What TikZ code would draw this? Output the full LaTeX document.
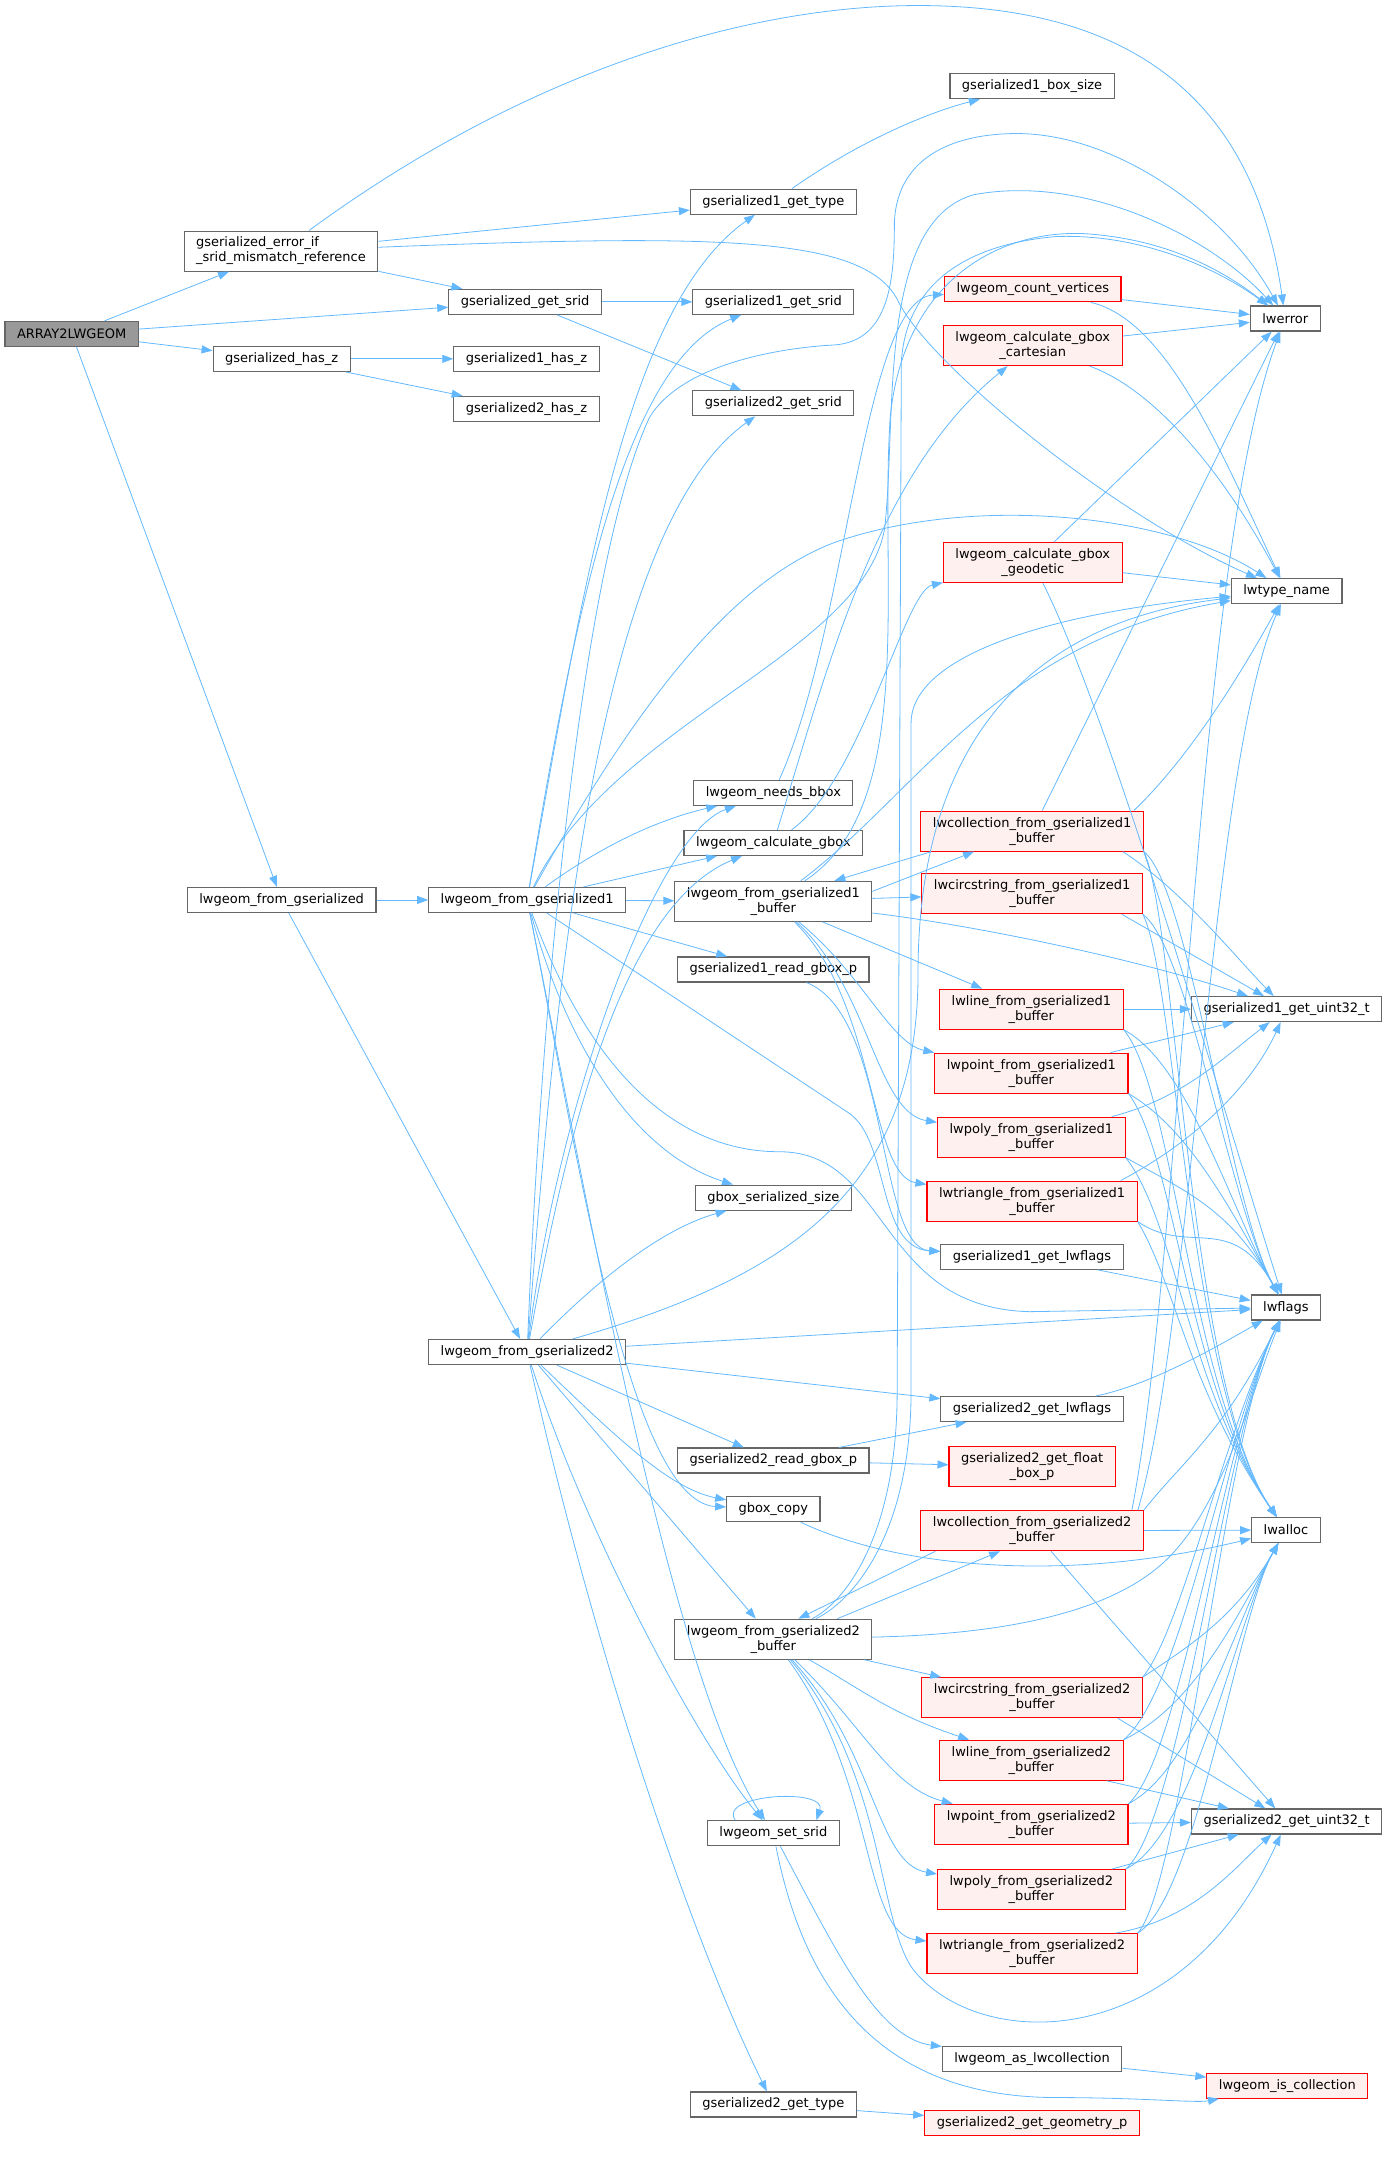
\documentclass[tikz,border=0pt]{standalone}
\usepackage{fontspec}
\newfontfamily\dejavu{DejaVu Sans}
\usetikzlibrary{arrows.meta}
\definecolor{callblue}{HTML}{63B8FF}
\definecolor{boxgrey}{HTML}{666666}
\definecolor{rootgrey}{HTML}{999999}
\definecolor{redfill}{HTML}{FFF0F0}

\begin{document}
\begin{tikzpicture}[x=1.3908pt,y=-1.3908pt,font=\dejavu\fontsize{13pt}{15pt}\selectfont,fn/.style={draw=boxgrey,fill=white,line width=1.1pt,inner xsep=12pt,inner ysep=3pt,minimum height=25pt},two/.style={minimum height=40pt,align=center},redfn/.style={fn,draw=red,fill=redfill},root/.style={fn,fill=rootgrey},call/.style={draw=callblue,line width=0.8pt,-{Triangle[length=11pt,width=8pt]}}]
\useasboundingbox (0,0) rectangle (998,1568);
\node[root] (arr) at (51.5,240) {ARRAY2LWGEOM};
\node[fn,two,align=left] (erref) at (202,180.5) {gserialized\_error\_if\\\_srid\_mismatch\_reference};
\node[fn] (gsrid) at (377.5,217) {gserialized\_get\_srid};
\node[fn] (hasz) at (202.5,258) {gserialized\_has\_z};
\node[fn] (g1hasz) at (378.5,258) {gserialized1\_has\_z};
\node[fn] (g2hasz) at (378.5,294) {gserialized2\_has\_z};
\node[fn] (g1type) at (556,145) {gserialized1\_get\_type};
\node[fn] (g1srid) at (556,217) {gserialized1\_get\_srid};
\node[fn] (g2srid) at (556,290) {gserialized2\_get\_srid};
\node[fn] (g1box) at (742,62) {gserialized1\_box\_size};
\node[fn] (lwerr) at (924,229) {lwerror};
\node[redfn] (countv) at (742.5,208) {lwgeom\_count\_vertices};
\node[redfn,two] (cart) at (742.5,248.5) {lwgeom\_calculate\_gbox\\\_cartesian};
\node[redfn,two] (geod) at (742.5,404.5) {lwgeom\_calculate\_gbox\\\_geodetic};
\node[fn] (lwtype) at (925,425) {lwtype\_name};
\node[fn] (needs) at (556,570) {lwgeom\_needs\_bbox};
\node[fn] (calc) at (556,606) {lwgeom\_calculate\_gbox};
\node[fn] (lwgfromg) at (202.5,647) {lwgeom\_from\_gserialized};
\node[fn] (lwg1) at (379,647) {lwgeom\_from\_gserialized1};
\node[fn,two] (lwg1buf) at (556,648) {lwgeom\_from\_gserialized1\\\_buffer};
\node[redfn,two] (coll1) at (742,597.5) {lwcollection\_from\_gserialized1\\\_buffer};
\node[redfn,two] (circ1) at (742,642.5) {lwcircstring\_from\_gserialized1\\\_buffer};
\node[fn] (g1read) at (556,697) {gserialized1\_read\_gbox\_p};
\node[redfn,two] (line1) at (741.5,725.5) {lwline\_from\_gserialized1\\\_buffer};
\node[fn] (g1uint) at (925,725.5) {gserialized1\_get\_uint32\_t};
\node[redfn,two] (point1) at (741.5,771.5) {lwpoint\_from\_gserialized1\\\_buffer};
\node[redfn,two] (poly1) at (741.5,817.5) {lwpoly\_from\_gserialized1\\\_buffer};
\node[redfn,two] (tri1) at (742,863.5) {lwtriangle\_from\_gserialized1\\\_buffer};
\node[fn] (gbsize) at (556,861) {gbox\_serialized\_size};
\node[fn] (g1lwfl) at (742,903.5) {gserialized1\_get\_lwflags};
\node[fn] (lwfl) at (924.5,940) {lwflags};
\node[fn] (lwg2) at (379,972) {lwgeom\_from\_gserialized2};
\node[fn] (g2lwfl) at (742,1013) {gserialized2\_get\_lwflags};
\node[fn] (g2read) at (556,1050) {gserialized2\_read\_gbox\_p};
\node[redfn,two] (g2float) at (742,1054.5) {gserialized2\_get\_float\\\_box\_p};
\node[fn] (gbcopy) at (556,1085) {gbox\_copy};
\node[redfn,two] (coll2) at (742,1100.5) {lwcollection\_from\_gserialized2\\\_buffer};
\node[fn] (lwal) at (924.5,1100) {lwalloc};
\node[fn,two] (lwg2buf) at (556,1178.5) {lwgeom\_from\_gserialized2\\\_buffer};
\node[redfn,two] (circ2) at (742,1220.5) {lwcircstring\_from\_gserialized2\\\_buffer};
\node[redfn,two] (line2) at (741.5,1265.5) {lwline\_from\_gserialized2\\\_buffer};
\node[fn] (g2uint) at (925,1309.5) {gserialized2\_get\_uint32\_t};
\node[redfn,two] (point2) at (741.5,1311.5) {lwpoint\_from\_gserialized2\\\_buffer};
\node[fn] (setsrid) at (556,1318) {lwgeom\_set\_srid};
\node[redfn,two] (poly2) at (741.5,1358.5) {lwpoly\_from\_gserialized2\\\_buffer};
\node[redfn,two] (tri2) at (742,1404.5) {lwtriangle\_from\_gserialized2\\\_buffer};
\node[fn] (aslw) at (742,1480) {lwgeom\_as\_lwcollection};
\node[redfn] (iscoll) at (925.5,1499.5) {lwgeom\_is\_collection};
\node[fn] (g2type) at (556,1513) {gserialized2\_get\_type};
\node[redfn] (g2geom) at (742,1526.5) {gserialized2\_get\_geometry\_p};
\draw[call] (arr) -- (erref);
\draw[call] (arr) -- (gsrid);
\draw[call] (arr) -- (hasz);
\draw[call] (arr) -- (lwgfromg);
\draw[call] (erref) -- (g1type);
\draw[call] (erref) -- (gsrid);
\draw[call] (erref) .. controls (380,50) and (540,3) .. (664,4) .. controls (800,5) and (900,60) .. (lwerr);
\draw[call] (erref) .. controls (520,168) and (620,170) .. (645,215) .. controls (665,260) and (800,370) .. (lwtype);
\draw[call] (gsrid) -- (g1srid);
\draw[call] (gsrid) -- (g2srid);
\draw[call] (hasz) -- (g1hasz);
\draw[call] (hasz) -- (g2hasz);
\draw[call] (g1type) .. controls (620,100) and (670,80) .. (g1box);
\draw[call] (lwgfromg) -- (lwg1);
\draw[call] (lwgfromg) -- (lwg2);
\draw[call] (lwg1) .. controls (420,420) and (450,220) .. (g1type);
\draw[call] (lwg1) .. controls (415,430) and (450,260) .. (g1srid);
\draw[call] (lwg1) .. controls (440,520) and (620,470) .. (636,380) .. controls (645,300) and (630,160) .. (700,140) .. controls (780,125) and (870,170) .. (lwerr);
\draw[call] (lwg1) .. controls (450,520) and (520,420) .. (600,390) .. controls (700,355) and (840,370) .. (lwtype);
\draw[call] (lwg1) .. controls (430,610) and (470,590) .. (needs);
\draw[call] (lwg1) -- (calc);
\draw[call] (lwg1) -- (lwg1buf);
\draw[call] (lwg1) -- (g1read);
\draw[call] (lwg1) .. controls (410,760) and (460,830) .. (gbsize);
\draw[call] (lwg1) -- (610,800) .. controls (640,820) and (630,897) .. (g1lwfl);
\draw[call] (lwg1) .. controls (420,760) and (480,828) .. (560,828) .. controls (640,828) and (630,940) .. (740,943) -- (lwfl);
\draw[call] (lwg1) .. controls (410,800) and (450,1080) .. (gbcopy);
\draw[call] (lwg1) .. controls (420,850) and (480,1200) .. (setsrid);
\draw[call] (lwg2) .. controls (400,700) and (430,380) .. (g2srid);
\draw[call] (lwg2) .. controls (430,1200) and (500,1400) .. (g2type);
\draw[call] (lwg2) -- (g2lwfl);
\draw[call] (lwg2) .. controls (560,920) and (660,860) .. (660,700) .. controls (660,480) and (800,440) .. (lwtype);
\draw[call] (lwg2) .. controls (420,930) and (470,885) .. (gbsize);
\draw[call] (lwg2) -- (lwg2buf);
\draw[call] (lwg2) .. controls (390,700) and (420,400) .. (467,300) .. controls (490,262) and (560,250) .. (600,248) .. controls (640,245) and (643,200) .. (643,160) .. controls (645,110) and (690,96) .. (731,96) .. controls (800,96) and (880,150) .. (lwerr);
\draw[call] (lwg2) -- (g2read);
\draw[call] (lwg2) .. controls (440,1030) and (480,1070) .. (gbcopy);
\draw[call] (lwg2) .. controls (400,800) and (470,600) .. (needs);
\draw[call] (lwg2) .. controls (410,800) and (450,650) .. (calc);
\draw[call] (lwg2) .. controls (420,1100) and (500,1250) .. (setsrid);
\draw[call] (lwg2) -- (lwfl);
\draw[call] ([yshift=10pt]lwg1buf.east) -- ([xshift=-58pt]coll1.south);
\draw[call] ([xshift=11pt]coll1.south west) -- ([xshift=61pt]lwg1buf.north);
\draw[call] (lwg1buf) -- (circ1);
\draw[call] (lwg1buf) -- (line1);
\draw[call] (lwg1buf) .. controls (620,700) and (640,750) .. (point1);
\draw[call] (lwg1buf) .. controls (625,710) and (630,800) .. (poly1);
\draw[call] (lwg1buf) .. controls (630,720) and (625,845) .. (tri1);
\draw[call] (lwg1buf) .. controls (700,665) and (820,690) .. (g1uint);
\draw[call] (lwg1buf) .. controls (660,580) and (632,420) .. (640,300) .. controls (650,200) and (720,165) .. (780,168) .. controls (840,172) and (880,195) .. (lwerr);
\draw[call] (lwg1buf) .. controls (660,570) and (720,460) .. (lwtype);
\draw[call] (calc) .. controls (620,560) and (650,425) .. (geod);
\draw[call] (calc) .. controls (595,480) and (630,340) .. (cart);
\draw[call] (needs) .. controls (610,450) and (620,215) .. (countv);
\draw[call] (countv) -- (lwerr);
\draw[call] (countv) .. controls (840,230) and (880,330) .. (lwtype);
\draw[call] (cart) -- (lwerr);
\draw[call] (cart) .. controls (830,280) and (880,340) .. (lwtype);
\draw[call] (geod) -- (lwerr);
\draw[call] (geod) -- (lwtype);
\draw[call] (geod) .. controls (800,520) and (880,800) .. (lwfl);
\draw[call] (coll1) -- (lwerr);
\draw[call] ([xshift=-10pt]coll1.north east) .. controls (860,540) and (900,470) .. (lwtype);
\draw[call] ([xshift=-21pt]coll1.south east) .. controls (850,640) and (890,690) .. (g1uint);
\foreach \n/\y in {coll1/597.5,circ1/642.5,line1/725.5,point1/771.5,poly1/817.5,tri1/863.5}{
  \draw[call] (\n.south east) .. controls (845,\y+60) and (855,1000) .. (lwal);
  \draw[call] (\n.south east) .. controls (855,\y+40) and (885,870) .. (lwfl);
}
\draw[call] ([xshift=-21pt]circ1.south east) -- (g1uint);
\draw[call] (line1) -- (g1uint);
\draw[call] ([xshift=-18pt]point1.north east) -- (g1uint);
\draw[call] ([xshift=-14pt]poly1.north east) .. controls (850,790) and (880,760) .. (g1uint);
\draw[call] ([xshift=-17pt]tri1.north east) .. controls (860,820) and (900,780) .. (g1uint);
\draw[call] (g1lwfl) -- (lwfl);
\draw[call] (g1read) .. controls (640,730) and (630,897) .. (g1lwfl);
\draw[call] (g2read) -- (g2lwfl);
\draw[call] (g2read) -- (g2float);
\draw[call] (g2lwfl) .. controls (830,995) and (880,965) .. (lwfl);
\draw[call] (gbcopy) .. controls (640,1125) and (760,1140) .. (lwal);
\draw[call] ([xshift=64pt]lwg2buf.north) -- ([xshift=-32pt]coll2.south);
\draw[call] ([xshift=15pt]coll2.south west) -- ([xshift=25pt]lwg2buf.north);
\draw[call] (lwg2buf) -- (circ2);
\draw[call] (lwg2buf) .. controls (620,1215) and (640,1232) .. (line2);
\draw[call] (lwg2buf) .. controls (620,1240) and (640,1285) .. (point2);
\draw[call] (lwg2buf) .. controls (630,1260) and (630,1340) .. (poly2);
\draw[call] (lwg2buf) .. controls (630,1280) and (620,1390) .. (tri2);
\draw[call] (lwg2buf) .. controls (640,1280) and (630,1390) .. (660,1420) .. controls (710,1475) and (850,1475) .. (g2uint);
\draw[call] (lwg2buf) .. controls (720,1175) and (800,1160) .. (840,1120) .. controls (880,1080) and (900,1000) .. (lwfl);
\draw[call] (lwg2buf) .. controls (610,1150) and (645,1100) .. (645,1000) -- (648,260) .. controls (652,200) and (700,175) .. (760,170) .. controls (830,168) and (885,200) .. (lwerr);
\draw[call] (lwg2buf) .. controls (615,1150) and (655,1100) .. (655,1000) -- (655,520) .. controls (655,470) and (760,440) .. (lwtype);
\draw[call] (coll2) -- (lwal);
\draw[call] ([xshift=-12pt]coll2.north east) .. controls (850,900) and (860,400) .. (lwerr);
\draw[call] ([xshift=-6pt]coll2.north east) .. controls (858,950) and (870,550) .. (lwtype);
\draw[call] ([xshift=19pt]coll2.south) -- (g2uint);
\foreach \n/\y in {coll2/1100.5,circ2/1220.5,line2/1265.5,point2/1311.5,poly2/1358.5,tri2/1404.5}{
  \draw[call] (\n.north east) .. controls (850,\y-50) and (880,1030) .. (lwfl);
}
\foreach \n/\y in {circ2/1220.5,line2/1265.5,point2/1311.5,poly2/1358.5,tri2/1404.5}{
  \draw[call] (\n.north east) .. controls (860,\y-40) and (890,1160) .. (lwal);
}
\draw[call] ([xshift=-25pt]circ2.south east) -- (g2uint);
\draw[call] ([xshift=-17pt]line2.south east) -- (g2uint);
\draw[call] (point2) -- (g2uint);
\draw[call] ([xshift=-14pt]poly2.north east) -- (g2uint);
\draw[call] ([xshift=-22pt]tri2.north east) .. controls (860,1380) and (890,1340) .. (g2uint);
\draw[call] ([xshift=-38pt]setsrid.north) .. controls (515,1290) and (595,1285) .. ([xshift=43pt]setsrid.north);
\draw[call] (setsrid) .. controls (600,1400) and (630,1465) .. (aslw);
\draw[call] (setsrid) .. controls (580,1440) and (640,1508) .. (760,1508) .. controls (820,1508) and (860,1512) .. (iscoll);
\draw[call] (aslw) -- (iscoll);
\draw[call] (g2type) -- (g2geom);
\end{tikzpicture}
\end{document}
